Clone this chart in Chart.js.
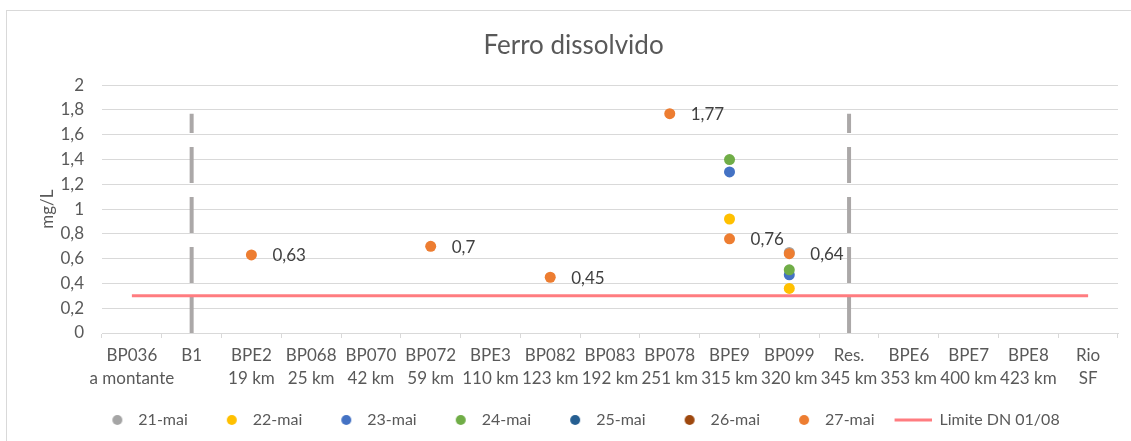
<!DOCTYPE html>
<html>
<head>
<meta charset="utf-8">
<script src="https://cdn.jsdelivr.net/npm/chart.js@4"></script>
<style>
  html, body { margin: 0; padding: 0; background: #fff; }
  #wrap { position: relative; width: 1131px; height: 441px; overflow: hidden; }
  #frame { position: absolute; left: 6px; top: 10px; width: 1200px; height: 500px; border: 1px solid #D9D9D9; }
  #c { position: absolute; left: 0; top: 0; }
</style>
</head>
<body>
<div id="wrap">
  <div id="frame"></div>
  <canvas id="c" width="1131" height="441"></canvas>
</div>
<script>
/* ── Data ─────────────────────────────────────────────────── */
const stations = ['BP036', 'B1', 'BPE2', 'BP068', 'BP070', 'BP072', 'BPE3', 'BP082', 'BP083',
    'BP078', 'BPE9', 'BP099', 'Res.', 'BPE6', 'BPE7', 'BPE8', 'Rio'];
const distances = ['a montante', '', '19 km', '25 km', '42 km', '59 km', '110 km', '123 km', '192 km',
    '251 km', '315 km', '320 km', '345 km', '353 km', '400 km', '423 km', 'SF'];

const days = ['21-mai', '22-mai', '23-mai', '24-mai', '25-mai', '26-mai', '27-mai'];
const dayColors = ['#A5A5A5', '#FFC000', '#4472C4', '#70AD47', '#255E91', '#9E480E', '#ED7D31'];

const _ = null;
//              BP036 B1 BPE2  068 070 BP072 BPE3 BP082 083 BP078 BPE9  BP099 Res 6  7  8  Rio
const mai21 = [_, _, _, _, _, _, _, _, _, _, _, 0.65, _, _, _, _, _];
const mai22 = [_, _, _, _, _, _, _, _, _, _, 0.92, 0.36, _, _, _, _, _];
const mai23 = [_, _, _, _, _, _, _, _, _, _, 1.30, 0.47, _, _, _, _, _];
const mai24 = [_, _, _, _, _, _, _, _, _, _, 1.40, 0.51, _, _, _, _, _];
const mai25 = [_, _, _, _, _, _, _, _, _, _, _, _, _, _, _, _, _];
const mai26 = [_, _, _, _, _, _, _, _, _, _, _, _, _, _, _, _, _];
const mai27 = [_, _, 0.63, _, _, 0.70, _, 0.45, _, 1.77, 0.76, 0.64, _, _, _, _, _];
const daySeries = [mai21, mai22, mai23, mai24, mai25, mai26, mai27];

const limitLabel = 'Limite DN 01/08';
const limitValue = 0.3;
const limitColor = '#FF7C80';

// dashed markers for the reservoir stretch
const dividerStations = ['B1', 'Res.'];
const dividerTop = 1.77;
const dividerColor = '#ABA8A8';

const yTicks = [0, 0.2, 0.4, 0.6, 0.8, 1, 1.2, 1.4, 1.6, 1.8, 2];

/* ── Helpers ──────────────────────────────────────────────── */
const FONT = 'Lato';
const fmt = v => String(+v.toFixed(2)).replace('.', ',');

function legendIcon(color, kind) {
    const cv = document.createElement('canvas');
    cv.width = 43; cv.height = 12;
    const g = cv.getContext('2d');
    g.fillStyle = color;
    if (kind === 'line') {
        g.fillRect(6, 4.5, 37, 3);
    } else {
        g.beginPath(); g.arc(30, 6, 5, 0, Math.PI * 2); g.fill();
    }
    return cv;
}

const labelsPlugin = {
    id: 'pointLabels',
    afterDatasetsDraw(chart) {
        const idx = chart.data.datasets.findIndex(d => d.label === '27-mai');
        const meta = chart.getDatasetMeta(idx);
        const ctx = chart.ctx;
        ctx.save();
        ctx.font = `17px ${FONT}`;
        ctx.fillStyle = '#404040';
        ctx.textBaseline = 'middle';
        meta.data.forEach((pt, i) => {
            const v = mai27[i];
            if (v == null) return;
            ctx.fillText(fmt(v), pt.x + 21, pt.y + 1);
        });
        ctx.restore();
    }
};

/* ── Datasets ─────────────────────────────────────────────── */
const datasets = [];
days.forEach((d, i) => {
    datasets.push({
        label: d, data: daySeries[i], showLine: false,
        pointRadius: 5.5, pointHoverRadius: 5.5, pointBorderWidth: 0,
        backgroundColor: dayColors[i], borderColor: dayColors[i],
        order: 7 - i,
    });
});
datasets.push({
    label: limitLabel, data: stations.map(() => limitValue),
    borderColor: limitColor, backgroundColor: limitColor, borderWidth: 3,
    pointRadius: 0, order: 8,
});
dividerStations.forEach(s => {
    datasets.push({
        label: 'div-' + s, data: [{ x: s, y: 0 }, { x: s, y: dividerTop }],
        borderColor: dividerColor, borderWidth: 4, borderDash: [36, 14],
        pointRadius: 0, order: 9,
    });
});

/* ── Chart ────────────────────────────────────────────────── */
new Chart(document.getElementById('c'), {
    type: 'line',
    data: { labels: stations, datasets },
    options: {
        responsive: false, animation: false,
        layout: { padding: { left: 29, right: 13, top: 0, bottom: 3 } },
        plugins: {
            tooltip: { enabled: false },
            title: {
                display: true, text: 'Ferro dissolvido', color: '#595959',
                font: { family: FONT, size: 26, weight: 'normal' },
                padding: { top: 30, bottom: 24 },
            },
            legend: {
                position: 'bottom',
                labels: {
                    usePointStyle: true, pointStyleWidth: 43, boxHeight: 12,
                    padding: 14, color: '#595959',
                    font: { family: FONT, size: 16 },
                    generateLabels: chart => {
                        const items = days.map((d, i) => ({
                            text: d, pointStyle: legendIcon(dayColors[i], 'dot'),
                            fillStyle: dayColors[i], strokeStyle: dayColors[i], lineWidth: 0,
                            fontColor: '#595959', hidden: false, datasetIndex: i,
                        }));
                        items.push({
                            text: limitLabel, pointStyle: legendIcon(limitColor, 'line'),
                            fillStyle: limitColor, strokeStyle: limitColor, lineWidth: 0,
                            fontColor: '#595959', hidden: false, datasetIndex: days.length,
                        });
                        return items;
                    },
                },
            },
        },
        scales: {
            x: {
                offset: true,
                grid: { offset: true, drawOnChartArea: false, drawTicks: true, tickLength: 5, color: '#D9D9D9' },
                border: { color: '#D9D9D9' },
                ticks: {
                    autoSkip: false, maxRotation: 0, minRotation: 0, padding: 6,
                    color: '#595959', font: { family: FONT, size: 17, lineHeight: 1.35 },
                    callback: (v, i) => [stations[i], distances[i]],
                },
                afterFit: s => { s.height = 65; },
            },
            y: {
                min: 0, max: 2,
                afterBuildTicks: s => { s.ticks = yTicks.map(v => ({ value: v })); },
                grid: { color: '#D9D9D9', drawTicks: false },
                border: { display: false },
                ticks: {
                    padding: 18, color: '#595959', font: { family: FONT, size: 17 },
                    callback: v => fmt(v),
                },
                title: {
                    display: true, text: 'mg/L', color: '#595959',
                    font: { family: FONT, size: 17 }, padding: { top: 8, bottom: 0 },
                },
                afterFit: s => { s.width = 73; },
            },
        },
    },
    plugins: [labelsPlugin],
});
</script>
</body>
</html>
